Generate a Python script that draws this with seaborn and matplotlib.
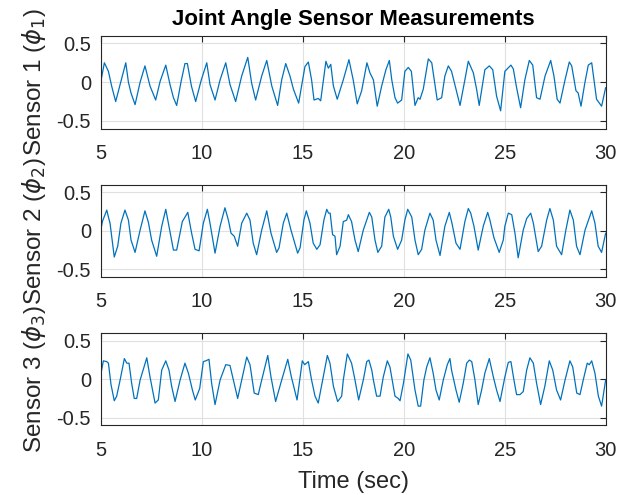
import matplotlib
matplotlib.use('Agg')
import matplotlib.pyplot as plt
import seaborn as sns
import pandas as pd

# values (time in s, angle)
t1 = [5.00, 5.18, 5.38, 5.54, 5.74, 6.00, 6.24, 6.37, 6.50, 6.70, 6.95, 7.19, 7.44, 7.72, 7.94,
      8.22, 8.43, 8.60, 8.76, 8.98, 9.17, 9.29, 9.49, 9.70, 9.98, 10.25, 10.41, 10.66, 10.91,
      11.19, 11.40, 11.68, 11.98, 12.28, 12.47, 12.67, 12.97, 13.22, 13.47, 13.76, 13.96, 14.16,
      14.37, 14.54, 14.80, 15.11, 15.28, 15.44, 15.56, 15.77, 15.89, 16.15, 16.27, 16.39, 16.52,
      16.71, 17.01, 17.29, 17.50, 17.70, 17.92, 18.18, 18.33, 18.50, 18.69, 18.91, 19.12, 19.29,
      19.41, 19.57, 19.70, 19.90, 20.06, 20.23, 20.38, 20.56, 20.72, 20.81, 20.97, 21.22, 21.39,
      21.66, 21.88, 22.04, 22.21, 22.37, 22.59, 22.79, 23.03, 23.20, 23.45, 23.61, 23.74, 24.02,
      24.24, 24.41, 24.60, 24.80, 25.01, 25.31, 25.43, 25.59, 25.79, 26.00, 26.22, 26.39, 26.58,
      26.75, 27.00, 27.28, 27.44, 27.60, 27.74, 27.99, 28.20, 28.32, 28.53, 28.64, 28.78, 28.97,
      29.14, 29.31, 29.55, 29.80, 30.00]
s1 = [0.00, 0.25, 0.14, -0.05, -0.25, 0.01, 0.25, 0.00, -0.14, -0.29, 0.00, 0.21, -0.05, -0.23, 0.01,
      0.22, -0.03, -0.20, -0.30, 0.01, 0.24, 0.24, -0.05, -0.25, 0.03, 0.25, -0.03, -0.23, 0.03,
      0.25, -0.03, -0.25, 0.08, 0.32, -0.01, -0.23, 0.08, 0.28, -0.05, -0.30, 0.03, 0.24,
      0.08, -0.09, -0.27, 0.20, 0.26, 0.03, -0.23, -0.21, -0.24, 0.27, 0.18, 0.23, -0.05,
      -0.22, 0.03, 0.29, 0.03, -0.28, -0.11, 0.25, 0.12, 0.03, -0.31, -0.05, 0.16, 0.28,
      0.03, -0.20, -0.27, -0.23, 0.14, 0.19, 0.14, -0.30, -0.20, -0.22, -0.09, 0.30, 0.25,
      -0.23, -0.20, 0.08, 0.21, 0.14, -0.09, -0.30, 0.03, 0.27, 0.12, -0.09, -0.30, 0.16,
      0.21, 0.16, -0.18, -0.37, 0.14, 0.22, 0.17, -0.07, -0.33, 0.03, 0.28, 0.22, -0.20,
      -0.22, 0.08, 0.28, 0.08, -0.22, -0.27, 0.03, 0.26, 0.21, -0.11, -0.14, -0.31, -0.01,
      0.22, 0.25, -0.22, -0.31, -0.07]

t2 = [5.00, 5.08, 5.30, 5.38, 5.46, 5.67, 5.84, 6.00, 6.20, 6.37, 6.50, 6.70, 6.95, 7.19, 7.36,
      7.52, 7.77, 8.02, 8.22, 8.38, 8.60, 8.76, 9.04, 9.31, 9.50, 9.67, 9.87, 10.08, 10.28, 10.41,
      10.66, 10.91, 11.15, 11.32, 11.45, 11.61, 11.78, 11.98, 12.23, 12.39, 12.55, 12.72, 12.97,
      13.22, 13.43, 13.71, 13.83, 14.04, 14.21, 14.42, 14.75, 14.87, 15.06, 15.18, 15.36, 15.52,
      15.70, 15.86, 16.05, 16.19, 16.28, 16.36, 16.48, 16.60, 16.68, 16.85, 17.01, 17.18, 17.26,
      17.42, 17.59, 17.75, 18.00, 18.30, 18.42, 18.58, 18.72, 18.91, 19.07, 19.26, 19.36, 19.49,
      19.70, 19.90, 20.06, 20.20, 20.40, 20.56, 20.72, 20.89, 21.05, 21.30, 21.46, 21.60, 21.80,
      22.04, 22.26, 22.39, 22.59, 22.79, 23.03, 23.20, 23.32, 23.48, 23.69, 23.94, 24.16, 24.27,
      24.47, 24.73, 24.93, 25.01, 25.18, 25.35, 25.51, 25.67, 25.92, 26.09, 26.29, 26.42, 26.66,
      26.83, 27.08, 27.24, 27.41, 27.57, 27.82, 28.03, 28.23, 28.40, 28.56, 28.73, 28.98, 29.31,
      29.47, 29.63, 29.80, 30.00]
s2 = [0.00, 0.12, 0.27, 0.18, 0.10, -0.34, -0.20, 0.10, 0.27, 0.14, -0.12, -0.28, 0.01, 0.26, 0.11,
      -0.12, -0.33, 0.06, 0.28, 0.06, -0.25, -0.25, 0.12, 0.24, -0.03, -0.24, -0.26, 0.10, 0.28, 0.10,
      -0.29, 0.06, 0.30, 0.14, -0.03, -0.07, -0.20, 0.10, 0.23, 0.14, -0.16, -0.31, 0.01,
      0.26, -0.03, -0.28, -0.22, 0.10, 0.23, 0.01, -0.29, -0.22, 0.14, 0.26, 0.10, -0.16,
      -0.24, -0.18, 0.14, 0.28, 0.23, 0.23, -0.05, -0.07, -0.31, -0.20, 0.12, 0.14, 0.21,
      0.12, -0.12, -0.27, 0.01, 0.24, 0.18, -0.12, -0.28, -0.20, 0.18, 0.28, 0.18, -0.07,
      -0.24, -0.12, 0.14, 0.28, 0.18, -0.12, -0.31, -0.24, 0.01, 0.23, 0.14, -0.12, -0.32,
      0.06, 0.24, 0.10, -0.16, -0.24, 0.12, 0.29, 0.23, 0.06, -0.25, 0.06, 0.24, 0.14,
      -0.09, -0.28, -0.12, 0.06, 0.23, 0.21, -0.03, -0.35, 0.01, 0.16, 0.23, 0.10, -0.27,
      -0.20, 0.14, 0.29, 0.14, -0.20, -0.31, 0.01, 0.27, 0.14, -0.20, -0.31, 0.01, 0.26,
      0.10, -0.20, -0.28, -0.03]

t3 = [5.00, 5.13, 5.30, 5.38, 5.51, 5.67, 5.79, 5.96, 6.17, 6.29, 6.40, 6.53, 6.66, 6.78, 6.95,
      7.28, 7.44, 7.69, 7.85, 8.02, 8.22, 8.38, 8.51, 8.68, 8.93, 9.17, 9.34, 9.54, 9.68, 9.90,
      10.08, 10.20, 10.36, 10.49, 10.66, 10.91, 11.19, 11.40, 11.57, 11.78, 11.98, 12.23, 12.39,
      12.60, 12.80, 12.97, 13.27, 13.43, 13.66, 13.96, 14.26, 14.44, 14.72, 14.98, 15.10, 15.28,
      15.44, 15.61, 15.77, 15.99, 16.22, 16.35, 16.52, 16.73, 16.93, 17.01, 17.21, 17.42, 17.59,
      17.77, 18.00, 18.17, 18.28, 18.42, 18.50, 18.66, 18.83, 18.99, 19.19, 19.32, 19.57, 19.73,
      19.82, 19.99, 20.21, 20.35, 20.56, 20.72, 20.84, 21.00, 21.14, 21.30, 21.46, 21.60, 21.76,
      21.96, 22.16, 22.29, 22.37, 22.59, 22.75, 22.95, 23.12, 23.25, 23.37, 23.53, 23.69, 23.86,
      24.02, 24.24, 24.44, 24.60, 24.77, 25.01, 25.18, 25.31, 25.46, 25.59, 25.76, 25.92, 26.09,
      26.25, 26.42, 26.58, 26.78, 26.99, 27.21, 27.38, 27.57, 27.77, 27.99, 28.23, 28.37, 28.57,
      28.73, 28.89, 29.09, 29.19, 29.31, 29.47, 29.64, 29.80, 30.00]
s3 = [0.06, 0.24, 0.23, 0.21, -0.07, -0.28, -0.22, -0.01, 0.27, 0.21, 0.21, -0.05, -0.25, -0.25, -0.01,
      0.28, 0.03, -0.31, -0.27, 0.12, 0.24, 0.12, -0.09, -0.29, -0.01, 0.21, 0.08, -0.14, -0.27, -0.12,
      0.23, 0.24, 0.26, -0.05, -0.33, -0.01, 0.19, 0.18, -0.01, -0.25, -0.01, 0.29, 0.19,
      -0.18, -0.20, -0.01, 0.31, 0.03, -0.29, -0.01, 0.26, 0.03, -0.27, 0.24, 0.19, 0.23,
      -0.01, -0.22, -0.31, -0.01, 0.31, 0.21, -0.09, -0.29, -0.22, -0.01, 0.33, 0.21, -0.01,
      -0.27, -0.01, 0.23, 0.25, 0.12, -0.01, -0.22, -0.22, 0.03, 0.24, 0.16, -0.22, -0.25,
      -0.28, -0.05, 0.33, 0.25, -0.14, -0.35, -0.35, -0.01, 0.16, 0.28, 0.08, -0.14, -0.27,
      -0.01, 0.19, 0.27, 0.12, -0.14, -0.30, -0.05, 0.21, 0.25, 0.23, -0.01, -0.33, -0.14,
      0.08, 0.27, 0.03, -0.14, -0.29, 0.03, 0.22, 0.23, -0.01, -0.20, -0.20, -0.16, 0.12,
      0.28, 0.21, -0.05, -0.33, -0.09, 0.24, 0.12, -0.14, -0.27, -0.01, 0.24, 0.16, -0.18,
      -0.20, -0.01, 0.21, 0.19, 0.24, 0.08, -0.22, -0.35, -0.01]

labels = ['Sensor 1 ($\\phi_1$)', 'Sensor 2 ($\\phi_2$)', 'Sensor 3 ($\\phi_3$)']
xticks = [5, 10, 15, 20, 25, 30]
yticks = [-0.5, 0, 0.5]
yticklabels = ['-0.5', '0', '0.5']

sns.set_style('white')
plt.rcParams['font.family'] = ['Liberation Sans', 'DejaVu Sans']
plt.rcParams['mathtext.fontset'] = 'dejavusans'

dark = '#262626'
fig = plt.figure(figsize=(6.18, 4.95), dpi=100)
boxes = [[0.163, 0.740, 0.817, 0.188],
         [0.163, 0.4404, 0.817, 0.1865],
         [0.163, 0.1408, 0.817, 0.186]]

for i, (t, s) in enumerate([(t1, s1), (t2, s2), (t3, s3)]):
    ax = fig.add_axes(boxes[i])
    df = pd.DataFrame({'time': t, 'angle': s})
    sns.lineplot(data=df, x='time', y='angle', ax=ax, color='#0072BD',
                 linewidth=0.9, estimator=None, sort=False)
    ax.set_xlim(5, 30)
    ax.set_ylim(-0.6, 0.6)
    ax.set_xticks(xticks)
    ax.set_yticks(yticks)
    ax.set_yticklabels(yticklabels)
    ax.grid(True, color='#e0e0e0', linewidth=0.8)
    ax.tick_params(direction='in', top=True, right=True, length=4, width=0.8,
                   labelsize=14.5, colors=dark)
    ax.tick_params(axis='x', pad=11)
    ax.tick_params(axis='y', pad=7)
    for sp in ax.spines.values():
        sp.set_color(dark)
        sp.set_linewidth(0.8)
    ax.set_ylabel(labels[i], fontsize=17.5, color=dark)
    ax.yaxis.set_label_coords(-0.104, 0.5)
    if i == 0:
        ax.set_title('Joint Angle Sensor Measurements', fontsize=16,
                     fontweight='bold', color='black', pad=8)
    if i == 2:
        ax.set_xlabel('Time (sec)', fontsize=17, color=dark, labelpad=8)
    else:
        ax.set_xlabel('')

fig.savefig('out.png', dpi=100)
